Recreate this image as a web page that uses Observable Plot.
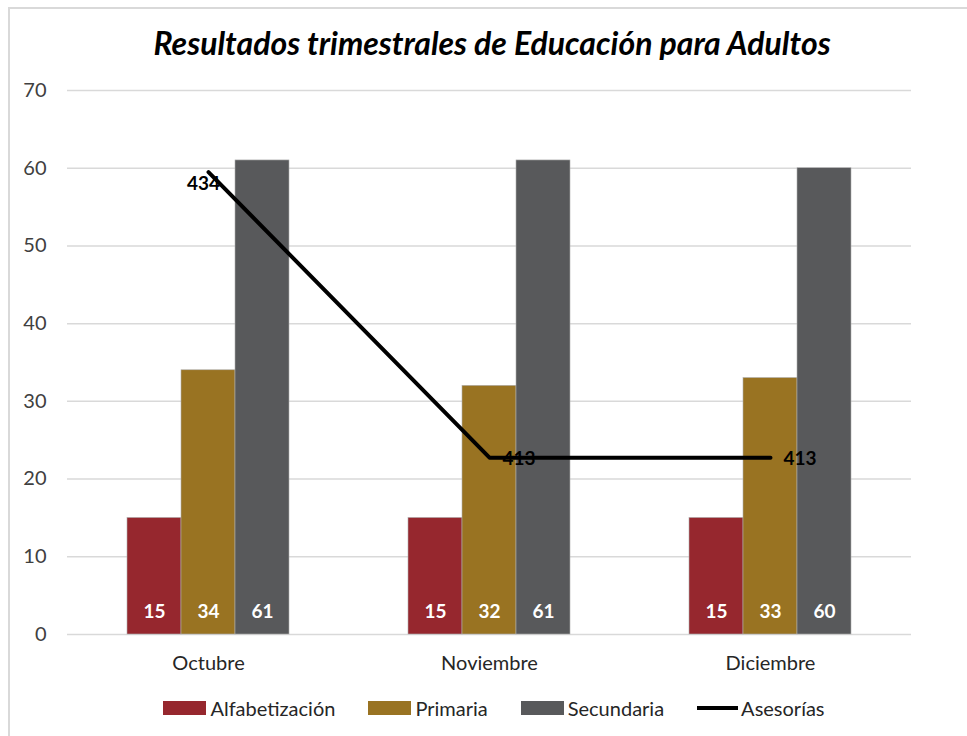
<!DOCTYPE html>
<html><head><meta charset="utf-8">
<script src="https://cdn.jsdelivr.net/npm/d3@7"></script>
<script src="https://cdn.jsdelivr.net/npm/@observablehq/plot@0.6"></script>
<style>
body{margin:0;background:#fff;font-family:Lato,sans-serif;}
#wrap{position:relative;width:967px;height:736px;overflow:hidden;background:#fff;}
#frame{position:absolute;left:8px;top:7px;width:1000px;height:800px;border-left:2px solid #d9d9d9;border-top:2px solid #d9d9d9;}
#title{position:absolute;left:0;width:984px;top:25px;text-align:center;font:italic bold 32px Lato;line-height:36px;color:#000;}
.layer{position:absolute;left:0;top:0;}
#legend{position:absolute;top:696px;left:0;width:988px;display:flex;justify-content:center;gap:33px;font-size:20px;color:#262626;align-items:center;}
.item{display:flex;align-items:center;}
.sw{width:43px;height:14px;margin-right:4px;}
.ln{width:41px;height:4px;background:#000;margin-right:3px;}
</style></head>
<body>
<div id="wrap">
<div id="frame"></div>
<div id="title">Resultados trimestrales de Educación para Adultos</div>
<div id="l1" class="layer"></div>
<div id="l2" class="layer"></div>
<div id="l3" class="layer"></div>
<div id="legend"></div>
</div>
<script>
const months = ["Octubre", "Noviembre", "Diciembre"];
const series = ["Alfabetización", "Primaria", "Secundaria"];
const alfabetizacion = [15, 15, 15];
const primaria = [34, 32, 33];
const secundaria = [61, 61, 60];
const asesorias = [434, 413, 413];
const lineName = "Asesorías";
const colors = ["#96272E", "#997322", "#58595B"];
const yTicks = [0, 10, 20, 30, 40, 50, 60, 70];

const values = [alfabetizacion, primaria, secundaria];
const rows = [];
months.forEach((m, i) => series.forEach((s, j) => rows.push({month: m, serie: s, value: values[j][i]})));
const lineRows = months.map((m, i) => ({month: m, value: asesorias[i]}));

const common = {width: 967, height: 680, marginTop: 90, marginBottom: 46, marginLeft: 67, marginRight: 56,
  style: {background: "transparent", fontFamily: "Lato, sans-serif", overflow: "visible"}};

const p1 = Plot.plot({...common,
  y: {domain: [0, 70]},
  marks: [
    Plot.gridY(yTicks, {stroke: "#d9d9d9", strokeOpacity: 1, strokeWidth: 1.5}),
    Plot.axisY(yTicks, {tickSize: 0, tickPadding: 21, fontSize: 20, fill: "#404040", label: null})
  ]
});
document.getElementById("l1").appendChild(p1);

const p2 = Plot.plot({...common,
  fx: {domain: months, paddingInner: 0.424, paddingOuter: 0.212, label: null, axis: null},
  x: {domain: series, padding: 0, axis: null},
  y: {domain: [0, 70], axis: null},
  color: {domain: series, range: colors},
  marks: [
    Plot.barY(rows, {fx: "month", x: "serie", y: "value", fill: "serie", stroke: "#b0b0b0", strokeWidth: 0.6}),
    Plot.text(rows, {fx: "month", x: "serie", y: 0, text: d => String(d.value), dy: -23, fill: "white", fontWeight: "bold", fontSize: 19}),
    Plot.axisFx({anchor: "bottom", tickSize: 0, tickPadding: 21, fontSize: 20, fill: "#262626", label: null})
  ]
});
document.getElementById("l2").appendChild(p2);

const p3 = Plot.plot({...common,
  x: {type: "point", domain: months, padding: 0.5, axis: null},
  y: {domain: [400, 440], axis: null},
  marks: [
    Plot.lineY(lineRows, {x: "month", y: "value", stroke: "black", strokeWidth: 4}),
    Plot.text(lineRows.slice(0, 1), {x: "month", y: "value", text: d => String(d.value), dx: -5, dy: 12, fontWeight: "bold", fontSize: 19, fill: "#000"}),
    Plot.text(lineRows.slice(1), {x: "month", y: "value", text: d => String(d.value), textAnchor: "start", dx: 13, dy: 1, fontWeight: "bold", fontSize: 19, fill: "#000"})
  ]
});
document.getElementById("l3").appendChild(p3);

const legend = document.getElementById("legend");
series.forEach((s, j) => {
  const it = document.createElement("div"); it.className = "item";
  it.innerHTML = `<span class="sw" style="background:${colors[j]}"></span><span>${s}</span>`;
  legend.appendChild(it);
});
const li = document.createElement("div"); li.className = "item";
li.innerHTML = `<span class="ln"></span><span>${lineName}</span>`;
legend.appendChild(li);
</script>
</body></html>
